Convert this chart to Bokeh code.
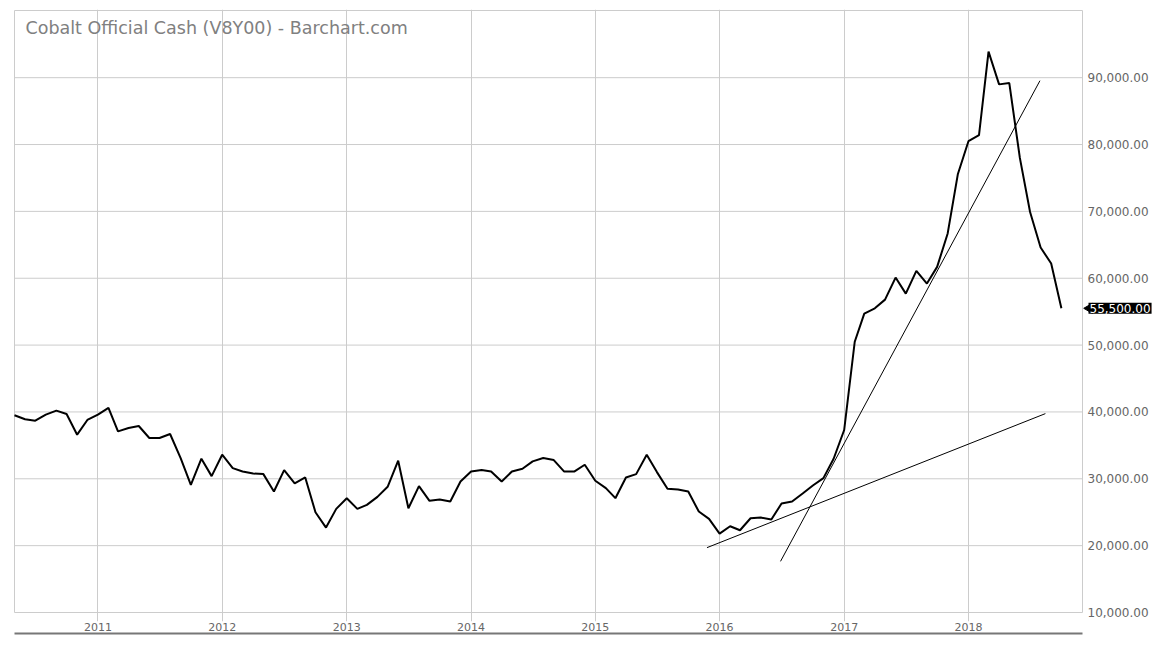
import math
import pandas as pd
from bokeh.plotting import figure
from bokeh.models import (ColumnDataSource, Range1d, FixedTicker, LinearAxis,
                          DatetimeTickFormatter, Grid, Label)
from bokeh.core.properties import value
from bokeh.embed import file_html
from bokeh.resources import INLINE

# ---------------- data ----------------
title_text = "Cobalt Official Cash (V8Y00) - Barchart.com"
start_month = "2010-05-01"
prices = [39500, 38900, 38700, 39600, 40200, 39700, 36600, 38800, 39600, 40600,
          37100, 37600, 37900, 36100, 36100, 36700, 33100, 29100, 33000, 30400,
          33600, 31600, 31100, 30800, 30700, 28100, 31300, 29300, 30200, 25000,
          22700, 25500, 27100, 25500, 26100, 27300, 28800, 32700, 25600, 28900,
          26700, 26900, 26600, 29600, 31100, 31300, 31100, 29600, 31100, 31500,
          32600, 33100, 32800, 31100, 31100, 32100, 29700, 28600, 27100, 30200,
          30700, 33600, 31000, 28500, 28400, 28100, 25100, 24000, 21800, 22900,
          22300, 24100, 24200, 23900, 26300, 26600, 27800, 29000, 30100, 33000,
          37300, 50500, 54700, 55500, 56800, 60100, 57700, 61100, 59200, 61700,
          66700, 75600, 80500, 81400, 93900, 89000, 89200, 78000, 69900, 64600,
          62200, 55500]
trend1_dates = ["2015-11-25", "2018-08-15"]
trend1_values = [19700, 39750]
trend2_dates = ["2016-06-28", "2018-07-30"]
trend2_values = [17650, 89550]
year_ticks = [2011, 2012, 2013, 2014, 2015, 2016, 2017, 2018]
y_ticks = [10000, 20000, 30000, 40000, 50000, 60000, 70000, 80000, 90000]
y_tick_labels = ["10,000.00", "20,000.00", "30,000.00", "40,000.00", "50,000.00",
                 "60,000.00", "70,000.00", "80,000.00", "90,000.00"]
x_start, x_end = "2010-05-01", "2018-12-02"
y_start, y_end = 10000, 100050
last_label = "55,500.00"

# ---------------- layout helpers ----------------
FONT = "DejaVu Sans"
GRID = "#cccccc"
TXT = "#666666"
CHART_W, CHART_H = 1068, 602          # the bordered chart region in px
FRAME_W, FRAME_H = 1141, 612          # frame also holds price labels and tick stubs
PAD_TOP, PAD_BOTTOM = 1, 9            # px of frame above / below the chart region

xs = pd.Timestamp(x_start).value / 1e6
xe = pd.Timestamp(x_end).value / 1e6
ms_px = (xe - xs) / CHART_W
u_px = (y_end - y_start) / CHART_H

dates = pd.date_range(start_month, periods=len(prices), freq="MS")
src = ColumnDataSource(dict(date=dates, price=prices))
t1 = ColumnDataSource(dict(date=pd.to_datetime(trend1_dates), v=trend1_values))
t2 = ColumnDataSource(dict(date=pd.to_datetime(trend2_dates), v=trend2_values))

p = figure(frame_width=FRAME_W, frame_height=FRAME_H, x_axis_type=None, y_axis_type=None,
           output_backend="svg", toolbar_location=None,
           x_range=Range1d(xs - ms_px, xs + (FRAME_W - 1) * ms_px),
           y_range=Range1d(y_start - PAD_BOTTOM * u_px, y_end + PAD_TOP * u_px),
           min_border_left=13, min_border_top=9, min_border_right=2, min_border_bottom=22)
p.background_fill_color = "white"
p.border_fill_color = "white"
p.outline_line_color = None

# ---- bottom date axis ----
year_ms = [pd.Timestamp(f"{y}-01-01").value / 1e6 for y in year_ticks]
xticker = FixedTicker(ticks=year_ms)
fmt = "%Y"
xaxis = LinearAxis(ticker=xticker,
                   formatter=DatetimeTickFormatter(years=fmt, months=fmt, days=fmt, hours=fmt,
                                                   hourmin=fmt, minutes=fmt, minsec=fmt,
                                                   seconds=fmt, milliseconds=fmt,
                                                   microseconds=fmt))
xaxis.axis_line_color = None
xaxis.major_tick_line_color = None
xaxis.major_tick_out = 0
xaxis.major_tick_in = 0
xaxis.minor_tick_line_color = None
xaxis.major_label_standoff = 1
xaxis.major_label_text_font = FONT
xaxis.major_label_text_font_size = "11px"
xaxis.major_label_text_color = TXT
p.add_layout(xaxis, "below")

xaxis2 = LinearAxis(ticker=FixedTicker(ticks=[xs, xe]), bounds=(xs, xe))
xaxis2.axis_line_color = "#777777"
xaxis2.axis_line_width = 2
xaxis2.major_tick_line_color = None
xaxis2.minor_tick_line_color = None
xaxis2.major_tick_out = 0
xaxis2.major_tick_in = 0
xaxis2.major_label_text_color = None
xaxis2.major_label_text_font_size = "1px"
p.add_layout(xaxis2, "below")

# ---- grid and border ----
p.add_layout(Grid(dimension=0, ticker=xticker, grid_line_color=GRID, grid_line_width=1))
n = len(y_ticks)
p.segment(x0=[xs] * n, x1=[xe] * n, y0=y_ticks, y1=y_ticks, line_color=GRID, line_width=1)
p.segment(x0=[xs, xs, xe], x1=[xe, xs, xe], y0=[y_end, y_start, y_start],
          y1=[y_end, y_end, y_end], line_color=GRID, line_width=1)

# ---- price labels on the right ----
p.text(x=[xe] * n, y=y_ticks, text=y_tick_labels, x_offset=5,
       text_font=value(FONT), text_font_size="12px", text_color=TXT,
       text_baseline="middle", text_align="left")

# ---- series ----
p.line("date", "v", source=t1, line_color="black", line_width=1)
p.line("date", "v", source=t2, line_color="black", line_width=1)
p.line("date", "price", source=src, line_color="black", line_width=2)

# ---- title ----
p.add_layout(Label(x=12, y=FRAME_H - 18, x_units="screen", y_units="screen", text=title_text,
                   text_font=FONT, text_font_size="17.5px", text_color="#808080",
                   text_baseline="alphabetic", text_align="left"))

# ---- last price callout ----
p.scatter(x=[xe + 7 * ms_px], y=[prices[-1]], marker="triangle", angle=math.pi / 2,
          size=10, fill_color="black", line_color="black")
p.add_layout(Label(x=xe, y=prices[-1], x_units="data", y_units="data", x_offset=6,
                   text=last_label, text_font=FONT, text_font_size="12px",
                   text_color="white", text_baseline="middle", text_align="left",
                   background_fill_color="black", padding=1))

open("out.html", "w").write(file_html(p, INLINE))
